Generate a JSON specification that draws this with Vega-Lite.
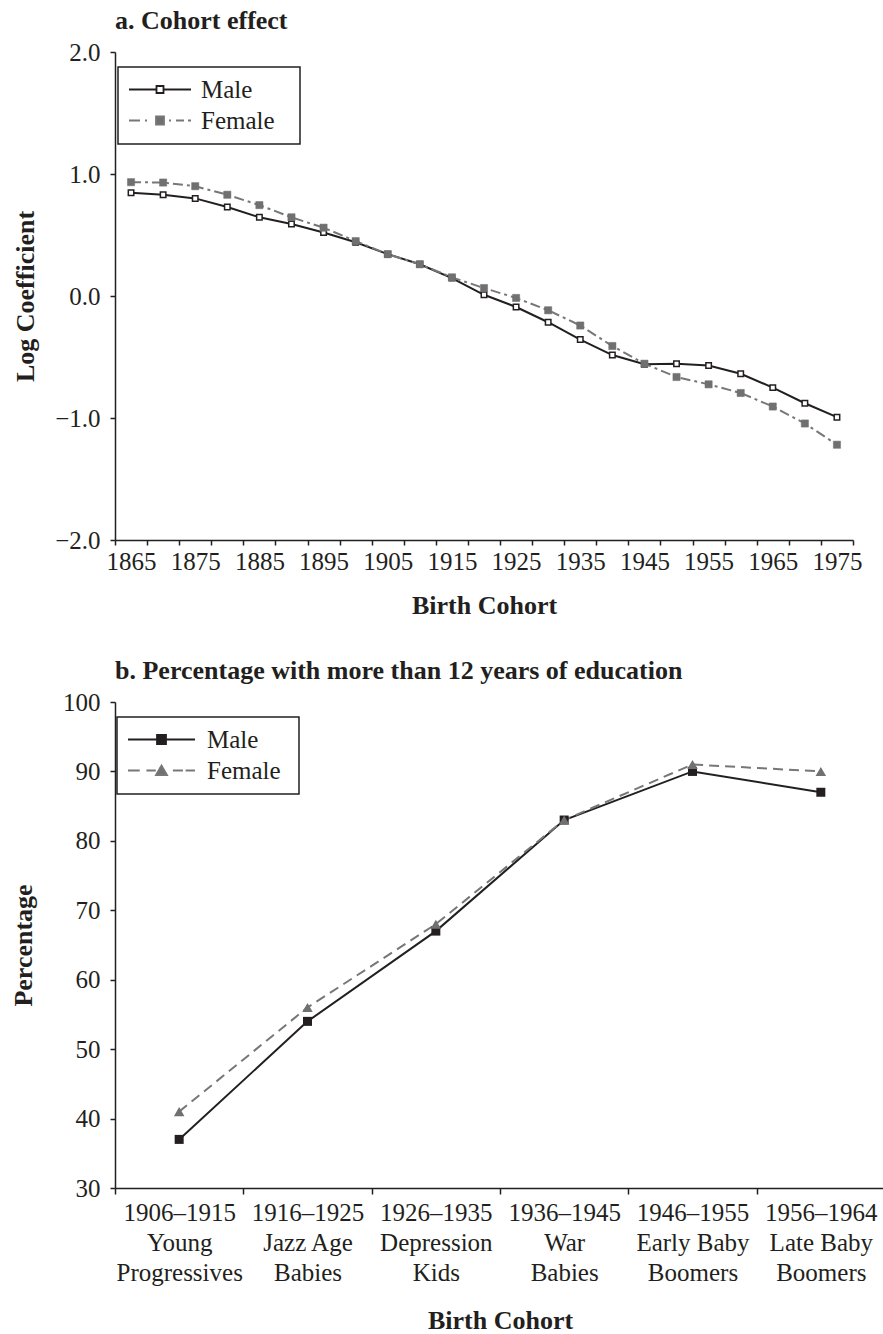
{
  "$schema": "https://vega.github.io/schema/vega-lite/v6.json",
  "background": "white",
  "padding": {"left": 10, "top": 8, "right": 0, "bottom": 0},
  "spacing": 40,
  "config": {
    "font": "Liberation Serif",
    "view": {"stroke": null},
    "axis": {
      "labelFont": "Liberation Serif", "labelFontSize": 25, "labelColor": "#231f20",
      "titleFont": "Liberation Serif", "titleFontSize": 26, "titleFontWeight": "bold", "titleColor": "#231f20",
      "domainColor": "#231f20", "domainWidth": 1.5, "tickColor": "#231f20", "tickWidth": 1.5, "tickSize": 5,
      "grid": false, "labelPadding": 6
    },
    "title": {"font": "Liberation Serif", "fontSize": 26, "fontWeight": "bold", "color": "#231f20", "anchor": "start", "frame": "group", "offset": 6}
  },
  "resolve": {
    "scale": {"color": "independent", "x": "independent", "y": "independent"},
    "legend": {"color": "independent"}
  },
  "vconcat": [
    {
      "title": {"text": "a. Cohort effect"},
      "width": 738,
      "height": 488,
      "data": {"values": [
        {"year": 1865, "sex": "Male", "value": 0.846},
        {"year": 1870, "sex": "Male", "value": 0.83},
        {"year": 1875, "sex": "Male", "value": 0.80},
        {"year": 1880, "sex": "Male", "value": 0.73},
        {"year": 1885, "sex": "Male", "value": 0.645},
        {"year": 1890, "sex": "Male", "value": 0.59},
        {"year": 1895, "sex": "Male", "value": 0.52},
        {"year": 1900, "sex": "Male", "value": 0.44},
        {"year": 1905, "sex": "Male", "value": 0.343},
        {"year": 1910, "sex": "Male", "value": 0.26},
        {"year": 1915, "sex": "Male", "value": 0.147},
        {"year": 1920, "sex": "Male", "value": 0.01},
        {"year": 1925, "sex": "Male", "value": -0.09},
        {"year": 1930, "sex": "Male", "value": -0.215},
        {"year": 1935, "sex": "Male", "value": -0.357},
        {"year": 1940, "sex": "Male", "value": -0.484},
        {"year": 1945, "sex": "Male", "value": -0.56},
        {"year": 1950, "sex": "Male", "value": -0.555},
        {"year": 1955, "sex": "Male", "value": -0.569},
        {"year": 1960, "sex": "Male", "value": -0.637},
        {"year": 1965, "sex": "Male", "value": -0.751},
        {"year": 1970, "sex": "Male", "value": -0.879},
        {"year": 1975, "sex": "Male", "value": -0.993},
        {"year": 1865, "sex": "Female", "value": 0.933},
        {"year": 1870, "sex": "Female", "value": 0.93},
        {"year": 1875, "sex": "Female", "value": 0.90},
        {"year": 1880, "sex": "Female", "value": 0.83},
        {"year": 1885, "sex": "Female", "value": 0.745},
        {"year": 1890, "sex": "Female", "value": 0.645},
        {"year": 1895, "sex": "Female", "value": 0.56},
        {"year": 1900, "sex": "Female", "value": 0.45},
        {"year": 1905, "sex": "Female", "value": 0.343},
        {"year": 1910, "sex": "Female", "value": 0.26},
        {"year": 1915, "sex": "Female", "value": 0.153},
        {"year": 1920, "sex": "Female", "value": 0.065},
        {"year": 1925, "sex": "Female", "value": -0.016},
        {"year": 1930, "sex": "Female", "value": -0.117},
        {"year": 1935, "sex": "Female", "value": -0.242},
        {"year": 1940, "sex": "Female", "value": -0.41},
        {"year": 1945, "sex": "Female", "value": -0.555},
        {"year": 1950, "sex": "Female", "value": -0.664},
        {"year": 1955, "sex": "Female", "value": -0.724},
        {"year": 1960, "sex": "Female", "value": -0.795},
        {"year": 1965, "sex": "Female", "value": -0.906},
        {"year": 1970, "sex": "Female", "value": -1.045},
        {"year": 1975, "sex": "Female", "value": -1.219}
      ]},
      "encoding": {
        "x": {"field": "year", "type": "ordinal", "scale": {"type": "band", "paddingInner": 0, "paddingOuter": 0},
              "axis": {"title": "Birth Cohort", "tickBand": "extent", "labelAngle": 0, "labelOverlap": false, "labelPadding": 4,
                       "labelExpr": "(datum.value - 1865) % 10 == 0 ? datum.label : ''", "titlePadding": 18}},
        "y": {"field": "value", "type": "quantitative", "scale": {"domain": [-2, 2]},
              "axis": {"title": "Log Coefficient", "values": [-2, -1, 0, 1, 2], "format": ".1f", "labelPadding": 10, "titlePadding": 16}}
      },
      "layer": [
        {
          "transform": [{"filter": "datum.sex === 'Male'"}],
          "mark": {"type": "line", "strokeWidth": 2},
          "encoding": {
            "color": {"field": "sex", "type": "nominal", "scale": {"domain": ["Male", "Female"], "range": ["#231f20", "#777777"]},
              "legend": {
                "title": "xx", "titleOrient": "right", "titleOpacity": 0, "titleFontSize": 10, "titlePadding": 5,
                "orient": "none", "legendX": 3, "legendY": 15,
                "strokeColor": "#231f20", "fillColor": "white", "padding": 10,
                "symbolSize": 3844, "symbolStrokeWidth": 1.8, "symbolOpacity": 1,
                "labelFont": "Liberation Serif", "labelFontSize": 25, "labelColor": "#231f20",
                "labelOffset": 9, "rowPadding": 5,
                "encode": {
                  "entries": {"update": {"height": {"value": 25}}},
                  "labels": {"update": {"y": {"value": 12.5}}},
                  "symbols": {"update": {
                    "y": {"value": 12.5},
                    "shape": {"signal": "datum.value === 'Male' ? 'M-1,0H-0.113M0.113,0H1M-0.113,-0.113H0.113V0.113H-0.113Z' : 'M-1,0H-0.645M-0.484,0H-0.419M-0.129,-0.129H0.129V0.129H-0.129ZM0.29,0H0.355M0.516,0H0.774M0.903,0H1'"},
                    "size": {"value": 3844},
                    "fill": {"signal": "datum.value === 'Male' ? '#ffffff' : '#707070'"},
                    "stroke": {"signal": "datum.value === 'Male' ? '#231f20' : '#777777'"},
                    "strokeWidth": {"value": 1.8},
                    "strokeDash": {"value": [1, 0]},
                    "opacity": {"value": 1}
                  }},
                  "legend": {"update": {"strokeWidth": {"value": 1.5}}}
                }
              }
            }
          }
        },
        {
          "transform": [{"filter": "datum.sex === 'Female'"}],
          "mark": {"type": "line", "strokeWidth": 2, "strokeDash": [10, 4, 3, 4]},
          "encoding": {
            "color": {"field": "sex", "type": "nominal"}
          }
        },
        {
          "transform": [{"filter": "datum.sex === 'Male'"}],
          "mark": {"type": "point", "shape": "square", "filled": true, "fill": "#ffffff", "stroke": "#231f20", "strokeWidth": 1.5, "size": 30, "opacity": 1}
        },
        {
          "transform": [{"filter": "datum.sex === 'Female'"}],
          "mark": {"type": "point", "shape": "square", "filled": true, "fill": "#707070", "stroke": "#707070", "strokeWidth": 0.5, "size": 52, "opacity": 1}
        }
      ]
    },
    {
      "title": {"text": "b. Percentage with more than 12 years of education"},
      "width": 770,
      "height": 486,
      "data": {"values": [
        {"cohort": "1906–1915|Young|Progressives", "sex": "Male", "value": 37},
        {"cohort": "1916–1925|Jazz Age|Babies", "sex": "Male", "value": 54},
        {"cohort": "1926–1935|Depression|Kids", "sex": "Male", "value": 67},
        {"cohort": "1936–1945|War|Babies", "sex": "Male", "value": 83},
        {"cohort": "1946–1955|Early Baby|Boomers", "sex": "Male", "value": 90},
        {"cohort": "1956–1964|Late Baby|Boomers", "sex": "Male", "value": 87},
        {"cohort": "1906–1915|Young|Progressives", "sex": "Female", "value": 41},
        {"cohort": "1916–1925|Jazz Age|Babies", "sex": "Female", "value": 56},
        {"cohort": "1926–1935|Depression|Kids", "sex": "Female", "value": 68},
        {"cohort": "1936–1945|War|Babies", "sex": "Female", "value": 83},
        {"cohort": "1946–1955|Early Baby|Boomers", "sex": "Female", "value": 91},
        {"cohort": "1956–1964|Late Baby|Boomers", "sex": "Female", "value": 90}
      ]},
      "encoding": {
        "x": {"field": "cohort", "type": "nominal", "sort": null, "scale": {"type": "band", "paddingInner": 0, "paddingOuter": 0},
              "axis": {"title": "Birth Cohort", "tickBand": "extent", "tickSize": 6, "labelAngle": 0, "labelOverlap": false,
                       "labelExpr": "split(datum.label, '|')", "labelLineHeight": 30, "titlePadding": 22}},
        "y": {"field": "value", "type": "quantitative", "scale": {"domain": [30, 100]},
              "axis": {"title": "Percentage", "values": [30, 40, 50, 60, 70, 80, 90, 100], "format": "d", "labelPadding": 10, "titlePadding": 26}}
      },
      "layer": [
        {
          "transform": [{"filter": "datum.sex === 'Male'"}],
          "mark": {"type": "line", "strokeWidth": 2},
          "encoding": {
            "color": {"field": "sex", "type": "nominal", "scale": {"domain": ["Male", "Female"], "range": ["#231f20", "#777777"]},
              "legend": {
                "title": "x", "titleOrient": "right", "titleOpacity": 0, "titleFontSize": 10, "titlePadding": 3,
                "orient": "none", "legendX": 2, "legendY": 15,
                "strokeColor": "#231f20", "fillColor": "white", "padding": 10,
                "symbolSize": 4489, "symbolStrokeWidth": 1.8, "symbolOpacity": 1,
                "labelFont": "Liberation Serif", "labelFontSize": 25, "labelColor": "#231f20",
                "labelOffset": 11, "rowPadding": 5,
                "encode": {
                  "entries": {"update": {"height": {"value": 25}}},
                  "labels": {"update": {"y": {"value": 12.5}}},
                  "symbols": {"update": {
                    "y": {"value": 12.5},
                    "shape": {"signal": "datum.value === 'Male' ? 'M-1,0H1M-0.134,-0.134H0.134V0.134H-0.134Z' : 'M-1,0H-0.65M-0.45,0H-0.17M-0.164,0.134L0,-0.15L0.164,0.134ZM0.34,0H0.64M0.72,0H1'"},
                    "size": {"value": 4489},
                    "fill": {"signal": "datum.value === 'Male' ? '#231f20' : '#707070'"},
                    "stroke": {"signal": "datum.value === 'Male' ? '#231f20' : '#777777'"},
                    "strokeWidth": {"value": 1.8},
                    "strokeDash": {"value": [1, 0]},
                    "opacity": {"value": 1}
                  }},
                  "legend": {"update": {"strokeWidth": {"value": 1.5}}}
                }
              }
            }
          }
        },
        {
          "transform": [{"filter": "datum.sex === 'Female'"}],
          "mark": {"type": "line", "strokeWidth": 2, "strokeDash": [10, 6]},
          "encoding": {
            "color": {"field": "sex", "type": "nominal"}
          }
        },
        {
          "transform": [{"filter": "datum.sex === 'Male'"}],
          "mark": {"type": "point", "shape": "square", "filled": true, "fill": "#231f20", "size": 81, "opacity": 1}
        },
        {
          "transform": [{"filter": "datum.sex === 'Female'"}],
          "mark": {"type": "point", "shape": "triangle-up", "filled": true, "fill": "#707070", "size": 110, "opacity": 1}
        }
      ]
    }
  ]
}
